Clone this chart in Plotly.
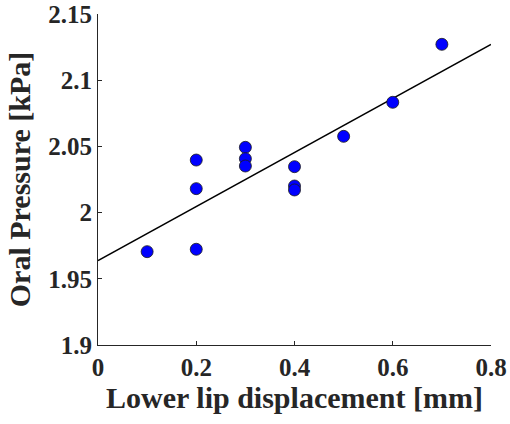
import plotly.graph_objects as go

# data
disp = [0.1, 0.2, 0.2, 0.2, 0.3, 0.3, 0.3, 0.4, 0.4, 0.4, 0.5, 0.6, 0.7]
pressure = [1.9705, 1.9723, 2.0181, 2.0397, 2.0493, 2.0407, 2.0352,
            2.0347, 2.0201, 2.0171, 2.0576, 2.0833, 2.1271]
fit_x = [0.0, 0.8]
fit_y = [1.9637, 2.1271]
x_ticks = [0, 0.2, 0.4, 0.6, 0.8]
x_tick_labels = ["0", "0.2", "0.4", "0.6", "0.8"]
y_ticks = [1.9, 1.95, 2.0, 2.05, 2.1, 2.15]
y_tick_labels = ["1.9", "1.95", "2", "2.05", "2.1", "2.15"]

font_family = "Liberation Serif"
axis_color = "#262626"

fig = go.Figure()
fig.add_trace(go.Scatter(
    x=fit_x, y=fit_y, mode="lines",
    line=dict(color="black", width=1.5), showlegend=False, hoverinfo="skip"))
fig.add_trace(go.Scatter(
    x=disp, y=pressure, mode="markers",
    marker=dict(color="#0000ff", size=12, line=dict(color="#1a1a1a", width=0.8)),
    showlegend=False, cliponaxis=False))

tickfont = dict(size=25, family=font_family, color=axis_color, weight=900)
fig.update_layout(
    width=510, height=424,
    margin=dict(l=98, r=19, t=14, b=79),
    paper_bgcolor="white", plot_bgcolor="white",
    font=dict(family=font_family, color=axis_color),
    xaxis=dict(
        range=[0, 0.8], tickvals=x_ticks, ticktext=["<b>%s</b>" % t for t in x_tick_labels],
        showgrid=False, zeroline=False, showline=True, linecolor=axis_color, linewidth=1,
        ticks="inside", ticklen=4, tickcolor=axis_color, automargin=False,
        tickfont=tickfont,
        title=dict(text="<b>Lower lip displacement [mm]</b>",
                   font=dict(size=30, family=font_family, color=axis_color), standoff=0),
    ),
    yaxis=dict(
        range=[1.9, 2.15], tickvals=y_ticks, ticktext=["<b>%s</b>" % t for t in y_tick_labels],
        showgrid=False, zeroline=False, showline=True, linecolor=axis_color, linewidth=1,
        ticks="inside", ticklen=4, tickcolor=axis_color, automargin=False,
        tickfont=tickfont,
        title=dict(text="<b>Oral Pressure [kPa]</b>",
                   font=dict(size=30, family=font_family, color=axis_color), standoff=8),
    ),
)

fig.write_html("out.html")
